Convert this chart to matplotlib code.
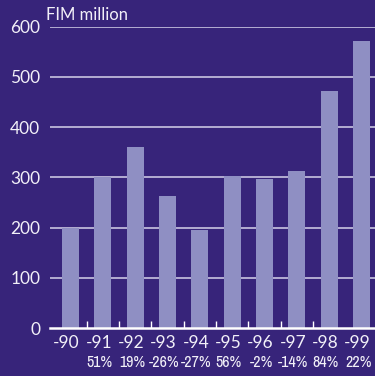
import matplotlib
matplotlib.use("Agg")
import matplotlib.pyplot as plt
from matplotlib import font_manager
import numpy as np

years = ["-90", "-91", "-92", "-93", "-94", "-95", "-96", "-97", "-98", "-99"]
values = [200, 300, 360, 264, 195, 303, 297, 313, 472, 571]
changes = ["", "51%", "19%", "-26%", "-27%", "56%", "-2%", "-14%", "84%", "22%"]
yticks = [0, 100, 200, 300, 400, 500, 600]

BG = "#37247a"
BAR = "#8f8fc3"
GRID = "#d6d2ea"
TEXT = "#f2f0f8"

# a narrow face for the growth percentages, if one is installed
names = sorted({f.name for f in font_manager.fontManager.ttflist})
narrow = [n for n in names if "Condensed" in n or "Narrow" in n]
pct_family = narrow[:1] + ["DejaVu Sans"]

fig = plt.figure(figsize=(3.75, 3.76), dpi=100, facecolor=BG)
ax = fig.add_axes([50 / 375, 47.7 / 376, 1 - 50 / 375, 301.8 / 376], facecolor=BG)

x = np.arange(len(years))
ax.bar(x, values, width=0.53, color=BAR, zorder=2)

ax.set_xlim(-0.635, 9.42)
ax.set_ylim(0, 600)

# horizontal rules behind the bars
for v in yticks[1:]:
    ax.axhline(v, color=GRID, lw=1.1, zorder=1)
ax.axhline(0, color="white", lw=1.8, zorder=3, clip_on=False)

for s in ax.spines.values():
    s.set_visible(False)

ax.set_yticks(yticks)
ax.set_yticklabels([str(v) for v in yticks], color=TEXT, fontsize=12.5, family="Lato")
ax.tick_params(axis="y", length=0, pad=7)

# small separators between the year columns
ax.set_xticks(x[:-2] + 0.5)
ax.set_xticklabels([])
ax.tick_params(axis="x", direction="in", length=5, width=1, color="white")

for xi, yr, ch in zip(x, years, changes):
    ax.text(xi - 0.12, -14, yr, ha="center", va="top", color=TEXT, fontsize=12.5,
            family="Lato", clip_on=False)
    if ch:
        ax.text(xi - 0.1, -53, ch, ha="center", va="top", color=TEXT, fontsize=11.5,
                family=pct_family, clip_on=False)

fig.text(46 / 375, 1 - 15 / 376, "FIM million", ha="left", va="center",
         color=TEXT, fontsize=12, family="Lato")

fig.savefig("out.png", dpi=100, facecolor=BG)
